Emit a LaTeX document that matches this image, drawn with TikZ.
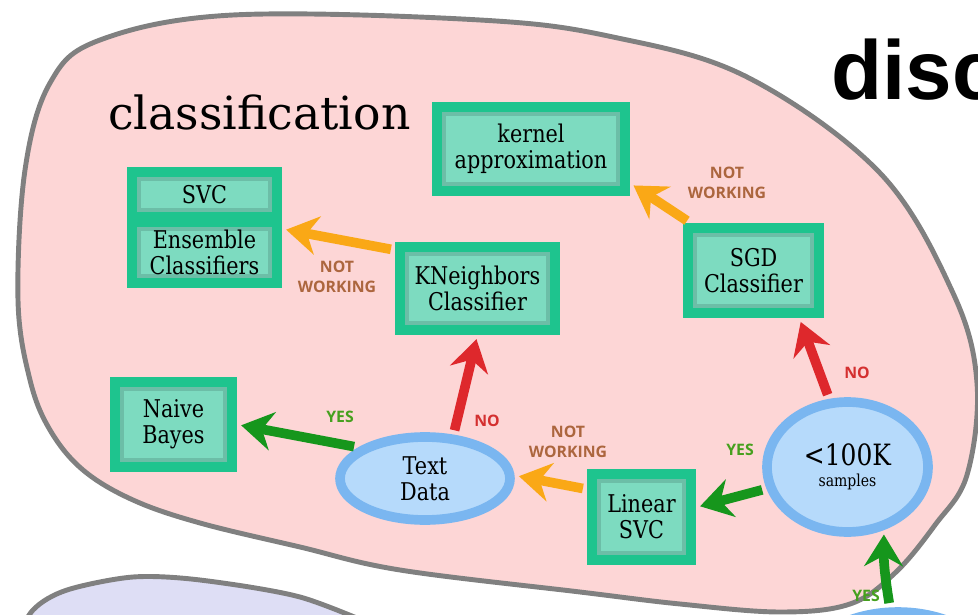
\documentclass[tikz,border=0pt]{standalone}
\usepackage{fontspec}
\setmainfont{DejaVu Serif}[FakeStretch=0.85]
\newfontfamily\regionfont{DejaVu Serif}
\newfontfamily\lblfont{Open Sans}
\newfontfamily\headfont{Liberation Sans}
\usetikzlibrary{arrows.meta,shapes.geometric}

\definecolor{blobpink}{RGB}{253,214,214}
\definecolor{bloblav}{RGB}{222,222,245}
\definecolor{blobgray}{RGB}{128,128,128}
\definecolor{algoedge}{RGB}{30,196,142}
\definecolor{algofill}{RGB}{125,219,192}
\definecolor{askedge}{RGB}{122,182,240}
\definecolor{askfill}{RGB}{182,218,251}
\definecolor{yesarr}{RGB}{22,150,28}
\definecolor{noarr}{RGB}{222,40,44}
\definecolor{nwarr}{RGB}{250,168,22}
\definecolor{yestxt}{RGB}{70,160,30}
\definecolor{notxt}{RGB}{212,48,48}
\definecolor{nwtxt}{RGB}{172,102,62}

\tikzset{
  blob/.style={draw=blobgray, line width=2.8pt},
  algo/.style={shape=rectangle, draw=algoedge, fill=algofill, line width=5.5pt,
    inner sep=0pt, align=center, font=\fontsize{13.9}{14.8}\selectfont,
    path picture={\draw[black, opacity=.13, line width=10pt]
      (path picture bounding box.south west) rectangle (path picture bounding box.north east);}},
  ask/.style={shape=ellipse, draw=askedge, fill=askfill, line width=5.5pt,
    inner sep=0pt, align=center, font=\fontsize{13.9}{14.8}\selectfont},
  link/.style={line width=5.5pt, -{Stealth[length=18pt,width=22pt,inset=6pt]},
    shorten >=2.5pt, shorten <=2.5pt},
  yeslink/.style={link, draw=yesarr},
  nolink/.style={link, draw=noarr},
  nwlink/.style={link, draw=nwarr},
  lbl/.style={font=\lblfont\bfseries\fontsize{9}{11.4}\selectfont, align=center, inner sep=0pt},
  yeslbl/.style={lbl, text=yestxt},
  nolbl/.style={lbl, text=notxt},
  nwlbl/.style={lbl, text=nwtxt}
}

\begin{document}
\begin{tikzpicture}[x=0.02cm, y=-0.02cm]
  \useasboundingbox (0,0) rectangle (978,615);
  \clip (0,0) rectangle (978,615);

  % regions
  \draw[blob, fill=blobpink] plot[smooth cycle, tension=0.6] coordinates {
    (50,83) (100,40) (233,15) (480,20) (613,37) (747,77) (880,173) (953,293)
    (977,383) (967,475) (935,525) (895,573) (850,604) (780,612) (680,604)
    (580,592) (400,570) (300,547) (200,523) (133,500) (83,470) (50,430)
    (30,380) (18,300) (25,170)};
  \draw[blob, fill=bloblav] plot[smooth] coordinates {
    (10,650) (33,610) (67,590) (133,577) (200,580) (300,597) (385,630)} -- (385,700) -- (10,700) -- cycle;

  \node[anchor=base west, inner sep=0pt, font=\regionfont\fontsize{26}{30}\selectfont] (title) at (108,130) {classification};
  \node[anchor=base west, inner sep=0pt, font=\headfont\bfseries\fontsize{47.6}{50}\selectfont] (next) at (831,100) {disc};

  % estimators
  \node[algo, minimum width=3.76cm, minimum height=1.68cm] (kern) at (531,149) {kernel\\approximation};
  \node[algo, minimum width=2.9cm, minimum height=0.9cm] (svc) at (204.5,194.5) {SVC};
  \node[algo, minimum width=2.9cm, minimum height=1.22cm] (ens) at (204.5,252.5) {Ensemble\\Classifiers};
  \node[algo, minimum width=3.1cm, minimum height=1.66cm] (kn) at (477.5,288.5) {KNeighbors\\Classifier};
  \node[algo, minimum width=2.62cm, minimum height=1.7cm] (sgd) at (753.5,270.5) {SGD\\Classifier};
  \node[algo, minimum width=2.34cm, minimum height=1.7cm] (nb) at (173.5,424.5) {Naive\\Bayes};
  \node[algo, minimum width=1.98cm, minimum height=1.72cm] (lsvc) at (641.5,517) {Linear\\SVC};

  % questions
  \node[ask, minimum width=3.4cm, minimum height=1.66cm] (text) at (425,478.5) {Text\\Data};
  \node[ask, minimum width=3.22cm, minimum height=2.6cm] (samp) at (847.5,467)
    {{\fontsize{16.7}{18}\selectfont <100K}\\[-3pt]{\fontsize{9.4}{11}\selectfont samples}};
  \node[ask, minimum width=4.6cm, minimum height=3.52cm] (lower) at (898,700) {};

  \path (lower.95) edge[yeslink, bend left=5] (samp.-60);
  \path (samp.195) edge[yeslink] (lsvc.10);
  \path (samp.105) edge[nolink] (sgd.-46);
  \path (sgd.143) edge[nwlink] (kern.-19);
  \path (lsvc.153) edge[nwlink] (text.2);
  \path (text.57) edge[nolink] (kn.south);
  \path (text.155) edge[yeslink] (nb.east);
  \path (kn.155) edge[nwlink] (ens.17);

  \node[yeslbl] (yes1) at (866,596) {YES};
  \node[yeslbl] (yes2) at (740,450) {YES};
  \node[nolbl] (no1) at (857,373) {NO};
  \node[nwlbl] (nw1) at (727,183) {NOT\\WORKING};
  \node[nwlbl] (nw2) at (568,442) {NOT\\WORKING};
  \node[nolbl] (no2) at (487,421) {NO};
  \node[yeslbl] (yes3) at (340,417) {YES};
  \node[nwlbl] (nw3) at (337,277) {NOT\\WORKING};

\end{tikzpicture}
\end{document}
